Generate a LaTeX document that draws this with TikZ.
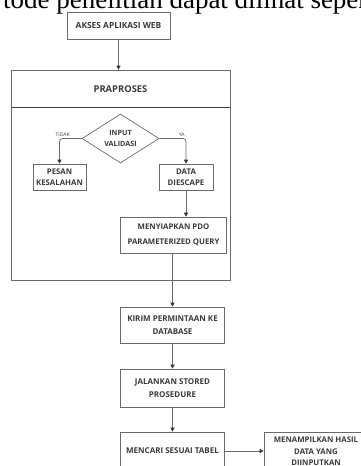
\documentclass[tikz,border=0pt]{standalone}
\usepackage{fontspec}
\setmainfont{Liberation Serif}
\newfontfamily\flowfont{Open Sans}
\usetikzlibrary{arrows.meta,positioning,calc,shapes.geometric}
\definecolor{boxline}{HTML}{6A6A6A}
\definecolor{boxtext}{HTML}{3A3A3A}

\begin{document}
\begin{tikzpicture}[x=1pt, y=-1pt,
    flowbox/.style={draw=boxline, line width=0.7pt, align=center, inner sep=0pt,
      text=boxtext, font=\flowfont\bfseries\fontsize{8}{12.5}\selectfont},
    decide/.style={flowbox, diamond, aspect=1.57, font=\flowfont\bfseries\fontsize{7.2}{10.3}\selectfont},
    lbl/.style={text=boxtext, inner sep=1.5pt, font=\flowfont\fontsize{5}{5}\selectfont},
    arr/.style={draw=boxline, line width=0.7pt, -{Triangle[length=4pt,width=4pt,color=black!80]}}]
  \clip (0,0) rectangle (361,466);

  \node[anchor=base west, font=\fontsize{27}{28}\selectfont] (intro) at (-0.5,8)
    {tode penelitian dapat dilihat seperti};

  \node[flowbox, minimum width=103pt, minimum height=27pt, font=\flowfont\bfseries\fontsize{8.4}{12}\selectfont] (akses) at (118.5,25.5) {AKSES APLIKASI WEB};

  % praproses block
  \node[draw=boxline, line width=0.7pt, minimum width=219pt, minimum height=210pt] (prap) at (120.5,175) {};
  \node[text=boxtext, font=\flowfont\bfseries\fontsize{9.4}{11}\selectfont] (prahead) at (120.5,89) {PRAPROSES};
  \coordinate (divL) at ($(prap.north west)+(0,38)$);
  \coordinate (divR) at ($(prap.north east)+(0,38)$);
  \draw[line width=1pt, draw=black!75] (divL) -- (divR);

  \node[decide, minimum width=77pt, minimum height=49pt] (valid) at (120.5,138.5) {INPUT\\VALIDASI};
  \node[flowbox, minimum width=53pt, minimum height=26pt, font=\flowfont\bfseries\fontsize{7.8}{11}\selectfont] (pesan) at (59.5,177) {PESAN\\KESALAHAN};
  \node[flowbox, minimum width=54pt, minimum height=26pt, font=\flowfont\bfseries\fontsize{7.8}{11}\selectfont] (escape) at (186,177) {DATA\\DIESCAPE};
  \node[flowbox, minimum width=106pt, minimum height=36pt, font=\flowfont\bfseries\fontsize{7.8}{15}\selectfont] (pdo) at (173.5,235) {MENYIAPKAN PDO\\PARAMETERIZED QUERY};

  \node[flowbox, minimum width=104pt, minimum height=36pt] (kirim) at (172.5,325) {KIRIM PERMINTAAN KE\\DATABASE};
  \node[flowbox, minimum width=104pt, minimum height=38pt] (jalan) at (172.5,388) {JALANKAN STORED\\PROSEDURE};
  \node[flowbox, minimum width=104pt, minimum height=38pt] (cari) at (172.5,451) {MENCARI SESUAI TABEL};
  \node[flowbox, minimum width=104pt, minimum height=39pt, font=\flowfont\bfseries\fontsize{7.8}{11.3}\selectfont] (hasil) at (316,451.5) {MENAMPILKAN HASIL\\DATA YANG\\DIINPUTKAN};

  \draw[arr] (akses.south) -- (akses.south |- prap.north);
  \draw[arr, rounded corners=3pt] (valid.west) -| node[lbl, above, pos=0.43] {TIDAK} (pesan.north);
  \draw[arr, rounded corners=3pt] (valid.east) -| node[lbl, above, pos=0.42] {YA} (escape.north);
  \draw[arr] (escape.south) -- (escape.south |- pdo.north);
  \draw[arr] (kirim.north |- pdo.south) -- (kirim);
  \draw[arr] (kirim) -- (jalan);
  \draw[arr] (jalan) -- (cari);
  \draw[arr] (cari.east) -- (hasil.west |- cari.east);
\end{tikzpicture}
\end{document}
